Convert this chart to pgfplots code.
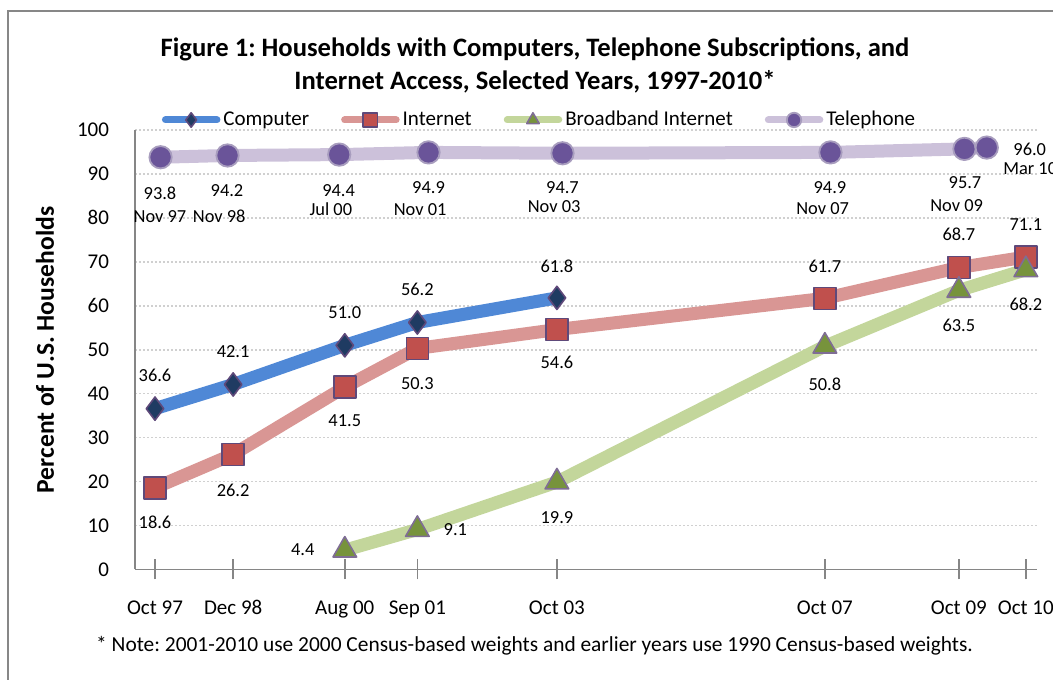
\documentclass[border=0pt]{standalone}
\usepackage{fontspec}
\setmainfont{Carlito}
\usepackage{pgfplots}
\pgfplotsset{compat=1.18}
\definecolor{compL}{HTML}{4F88D6}
\definecolor{compM}{HTML}{1F3B62}
\definecolor{intL}{HTML}{D99694}
\definecolor{intM}{HTML}{C0504D}
\definecolor{bbL}{HTML}{C3D69B}
\definecolor{bbM}{HTML}{77933C}
\definecolor{telL}{HTML}{CCC1DA}
\definecolor{telM}{HTML}{6A5499}
\definecolor{telB}{HTML}{A89DBE}
\definecolor{mB}{HTML}{5F497A}
\definecolor{axisC}{HTML}{868686}
\definecolor{gridC}{HTML}{D0D0D0}
\definecolor{frameC}{HTML}{878787}
\frenchspacing
\begin{document}
\begin{tikzpicture}
\useasboundingbox (0pt,0pt) rectangle (526.5pt,339.5pt);
\clip (0pt,0pt) rectangle (526.5pt,339.5pt);
\draw[frameC, line width=1pt] (3.75pt,-2pt) -- (3.75pt,334pt) -- (540pt,334pt);
\node[font=\bfseries\fontsize{13.3}{15}\selectfont] at (267.5pt,315pt) {Figure 1: Households with Computers, Telephone Subscriptions, and};
\node[font=\bfseries\fontsize{13.3}{15}\selectfont] at (267.5pt,298.5pt) {Internet Access, Selected Years, 1997-2010*};
\node[rotate=90, font=\bfseries\fontsize{12.8}{14}\selectfont] at (22.5pt,164.5pt) {Percent of U.S. Households};
\node[font=\fontsize{10.7}{12}\selectfont] at (267.25pt,16.5pt) {* Note: 2001-2010 use 2000 Census-based weights and earlier years use 1990 Census-based weights.};
\begin{axis}[
  at={(67.5pt,54.75pt)}, anchor=south west, scale only axis,
  width=451pt, height=219.75pt,
  xmin=-3.58, xmax=158, ymin=0, ymax=100,
  clip=false,
  axis x line*=bottom, axis y line*=left,
  axis line style={axisC, line width=0.75pt, -},
  xtick={0,14,34,47,72,120,144,156},
  xticklabels={Oct 97,Dec 98,Aug 00,Sep 01,Oct 03,Oct 07,Oct 09,Oct 10},
  ytick={0,10,...,100},
  ymajorgrids, grid style={gridC, dash pattern=on 0.8pt off 1.2pt, line width=0.8pt},
  tick align=center, major tick length=10pt,
  x tick style={axisC, line width=0.75pt},
  y tick style={draw=none},
  tick label style={font=\fontsize{10.5}{12}\selectfont},
  xticklabel style={yshift=-7pt},
  yticklabel style={xshift=-4.5pt},
  /pgf/number format/assume math mode=true,
  legend columns=4,
  legend style={at={(0.449,1.0228)}, anchor=center, draw=none, fill=none,
    font=\fontsize{10.5}{12}\selectfont, inner sep=0pt,
    nodes={inner xsep=1.5pt},
    /tikz/every even column/.append style={column sep=14.5pt}},
  legend cell align=left,
  legend image code/.code={
    \draw[#1, line width=3.5pt, line cap=round, mark=none] (1.75pt,0pt) -- (27.5pt,0pt);
    \draw[#1, mark size=3.6pt] plot coordinates {(14.6pt,0pt)};
  },
  every axis plot/.append style={line cap=round, line join=round},
]
\addplot[compL, line width=6.5pt, mark=diamond*, mark size=5.8pt,
  mark options={fill=compM, draw=mB, line width=0.8pt, solid}] coordinates {
  (0,36.6) (14,42.1) (34,51.0) (47,56.2) (72,61.8)};
\addlegendentry{Computer}
\addplot[intL, line width=6.5pt, mark=square*, mark size=5.5pt,
  mark options={fill=intM, draw=mB, line width=0.8pt, solid}] coordinates {
  (0,18.6) (14,26.2) (34,41.5) (47,50.3) (72,54.6) (120,61.7) (144,68.7) (156,71.1)};
\addlegendentry{Internet}
\addplot[bbL, line width=6.5pt, mark=triangle*, mark size=6.8pt,
  mark options={fill=bbM, draw=mB!80!white, line width=0.8pt, solid}] coordinates {
  (34,4.4) (47,9.1) (72,19.9) (120,50.8) (144,63.5) (156,68.2)};
\addlegendentry{Broadband Internet}
\addplot[telL, line width=6.5pt, mark=*, mark size=5.6pt,
  mark options={fill=telM, draw=telB, line width=0.9pt, solid}] coordinates {
  (1,93.8) (13,94.2) (33,94.4) (49,94.9) (73,94.7) (121,94.9) (145,95.7) (149,96.0)};
\addlegendentry{Telephone}
% data labels
\tikzset{lbl/.style={font=\fontsize{9.2}{11}\selectfont, inner sep=0pt}}
\node[lbl, yshift=16.5pt] at (axis cs:0,36.6) {36.6};
\node[lbl, yshift=16.5pt] at (axis cs:14,42.1) {42.1};
\node[lbl, yshift=16.5pt] at (axis cs:34,51.0) {51.0};
\node[lbl, yshift=16.5pt] at (axis cs:47,56.2) {56.2};
\node[lbl, yshift=16pt] at (axis cs:72,61.8) {61.8};
\node[lbl, yshift=-17.5pt] at (axis cs:0,18.6) {18.6};
\node[lbl, yshift=-18pt] at (axis cs:14,26.2) {26.2};
\node[lbl, yshift=-17pt] at (axis cs:34,41.5) {41.5};
\node[lbl, yshift=-17.5pt] at (axis cs:47,50.3) {50.3};
\node[lbl, yshift=-16.5pt] at (axis cs:72,54.6) {54.6};
\node[lbl, yshift=16pt] at (axis cs:120,61.7) {61.7};
\node[lbl, yshift=16.5pt] at (axis cs:144,68.7) {68.7};
\node[lbl, yshift=16pt] at (axis cs:156,71.1) {71.1};
\node[lbl, xshift=-21pt] at (axis cs:34,4.4) {4.4};
\node[lbl, xshift=19pt] at (axis cs:47,9.1) {9.1};
\node[lbl, yshift=-18pt] at (axis cs:72,19.9) {19.9};
\node[lbl, yshift=-19pt] at (axis cs:120,50.8) {50.8};
\node[lbl, yshift=-17.5pt] at (axis cs:144,63.5) {63.5};
\node[lbl, yshift=-17.5pt] at (axis cs:156,68.2) {68.2};
\node[lbl] at (axis cs:0.9,85.7) {93.8};
\node[lbl] at (axis cs:0.9,80.4) {Nov 97};
\node[lbl] at (axis cs:12.9,86.2) {94.2};
\node[lbl] at (axis cs:11.5,80.4) {Nov 98};
\node[lbl] at (axis cs:32.9,86.3) {94.4};
\node[lbl] at (axis cs:31.5,82.0) {Jul 00};
\node[lbl] at (axis cs:49.0,87.0) {94.9};
\node[lbl] at (axis cs:47.5,82.0) {Nov 01};
\node[lbl] at (axis cs:73.0,86.8) {94.7};
\node[lbl] at (axis cs:71.5,82.5) {Nov 03};
\node[lbl] at (axis cs:120.9,87.0) {94.9};
\node[lbl] at (axis cs:119.6,82.1) {Nov 07};
\node[lbl] at (axis cs:145.1,88.0) {95.7};
\node[lbl] at (axis cs:143.6,82.9) {Nov 09};
\node[lbl] at (axis cs:156.7,95.6) {96.0};
\node[lbl, anchor=west] at (axis cs:151.9,91.3) {Mar 10};
\end{axis}
\end{tikzpicture}
\end{document}
